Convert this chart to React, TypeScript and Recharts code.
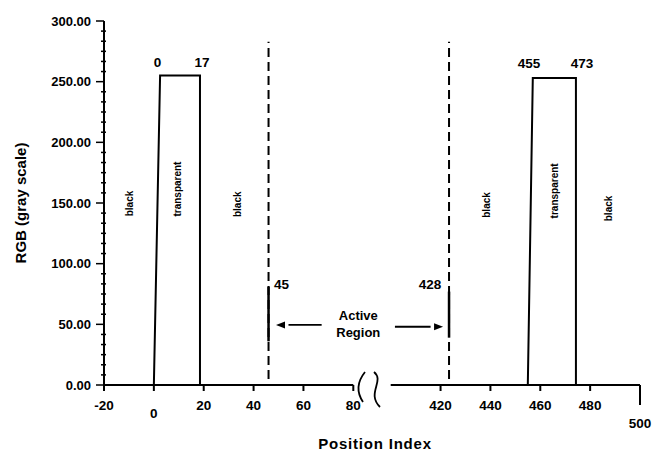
import React from "react";
import {
  ComposedChart,
  Line,
  Scatter,
  XAxis,
  YAxis,
  ReferenceLine,
  Label,
} from "recharts";

// the x axis is cut between 80 and 400, the cut keeps a small gap for the break mark
const GAP_START = 80;
const GAP_END = 400;
const GAP_WIDTH = 15;
const pos = (v: number) => (v <= GAP_START ? v : v - GAP_END + GAP_START + GAP_WIDTH);
const fromPos = (d: number) => (d <= GAP_START ? d : d + GAP_END - GAP_START - GAP_WIDTH);
const BREAK_AT = GAP_START + GAP_WIDTH / 2;

const xTickValues = [-20, 0, 20, 40, 60, 80, 420, 440, 460, 480, 500];
const yMajorTicks = [0, 50, 100, 150, 200, 250, 300];

// the two transparent windows (gray level 0 = black)
const leftPulse = [
  { x: 0, y: 0 },
  { x: 2.5, y: 255 },
  { x: 18.5, y: 255 },
  { x: 18.5, y: 0 },
];
const rightPulse = [
  { x: 455, y: 0 },
  { x: 457, y: 253 },
  { x: 474.3, y: 253 },
  { x: 474.3, y: 0 },
];

const boundaries = [46, 423.4];
const boundaryTop = 283;
const boundaryBottom = 5;
// heavier bits of the dashed lines next to the arrows
const boundaryMarks = [
  { x: 46, from: 36, to: 81 },
  { x: 423.4, from: 39, to: 77 },
];

const edgeLabels = [
  { x: 1.5, y: 266, text: "0" },
  { x: 19.3, y: 266, text: "17" },
  { x: 455.5, y: 265, text: "455" },
  { x: 476.7, y: 265, text: "473" },
];
const boundaryLabels = [
  { x: 51.2, y: 83, text: "45" },
  { x: 415.8, y: 82.5, text: "428" },
];
const zoneLabels = [
  { x: -9.6, y: 149.6, text: "black" },
  { x: 9.5, y: 161.5, text: "transparent" },
  { x: 33.5, y: 149, text: "black" },
  { x: 438.5, y: 148.4, text: "black" },
  { x: 465.8, y: 160, text: "transparent" },
  { x: 487.5, y: 145.5, text: "black" },
];

// arrows pointing at the boundaries
const arrows = [
  { from: 67.3, tip: 49, y: 49.5, dir: -1 },
  { from: 401.7, tip: 421, y: 48, dir: 1 },
];

const yTicks = yMajorTicks
  .slice(0, -1)
  .flatMap((t) => [0, 1, 2, 3, 4, 5].map((k) => t + (k * 50) / 6))
  .concat(300);

const font = "'Liberation Sans', Arial, Helvetica, sans-serif";

const YTick = (props: any) => {
  const { x, y, payload } = props;
  const v = payload.value;
  const major = yMajorTicks.includes(v);
  return (
    <g>
      <line
        x1={major ? x - 8 : x - 3}
        x2={major ? x : x + 2}
        y1={y}
        y2={y}
        stroke="#000"
        strokeWidth={1.5}
      />
      {major && (
        <text
          x={x - 13}
          y={y}
          textAnchor="end"
          dominantBaseline="central"
          fontFamily={font}
          fontWeight="bold"
          fontSize={13}
          fill="#000"
        >
          {v.toFixed(2)}
        </text>
      )}
    </g>
  );
};

const XTick = (props: any) => {
  const { x, y, payload } = props;
  const d = payload.value;
  if (d === BREAK_AT) {
    return (
      <g fill="none" stroke="#000" strokeWidth={1.8}>
        <path d={`M${x - 7},${y - 13} Q${x - 19},${y + 2} ${x - 9},${y + 17}`} />
        <path d={`M${x + 2},${y - 13} C${x + 13},${y - 4} ${x - 6},${y + 8} ${x + 8},${y + 22}`} />
      </g>
    );
  }
  const v = fromPos(d);
  const drop = v === 0 ? 8 : v === 500 ? 18 : 0;
  const len = v === 500 ? 20 : 6;
  return (
    <g>
      <line x1={x} x2={x} y1={y} y2={y + len} stroke="#000" strokeWidth={2} />
      <text
        x={x}
        y={y + 20 + drop}
        textAnchor="middle"
        dominantBaseline="central"
        fontFamily={font}
        fontWeight="bold"
        fontSize={13.5}
        fill="#000"
      >
        {v}
      </text>
    </g>
  );
};

const textShape = (size: number, rotate = false) => (p: any) => {
  const { cx, cy, payload } = p;
  return (
    <text
      x={cx}
      y={cy}
      textAnchor="middle"
      dominantBaseline="central"
      fontFamily={font}
      fontWeight="bold"
      fontSize={size}
      fill="#000"
      transform={rotate ? `rotate(-90, ${cx}, ${cy})` : undefined}
    >
      {payload.text}
    </text>
  );
};

const arrowHead = (p: any) => {
  const { cx, cy, payload } = p;
  const s = -payload.dir;
  return (
    <path
      d={`M${cx},${cy} L${cx + s * 9},${cy - 3.5} L${cx + s * 9},${cy + 3.5} Z`}
      fill="#000"
    />
  );
};

const activeShape = (p: any) => {
  const { cx, cy } = p;
  return (
    <text
      x={cx}
      textAnchor="middle"
      fontFamily={font}
      fontWeight="bold"
      fontSize={13}
      fill="#000"
    >
      <tspan x={cx} y={cy - 6}>Active</tspan>
      <tspan x={cx} y={cy + 11}>Region</tspan>
    </text>
  );
};

const toDisplay = (pts: { x: number; y: number }[]) =>
  pts.map((p) => ({ ...p, x: pos(p.x) }));

const App = () => {
  const activeAt = [
    {
      x: (pos(arrows[0].from) + pos(arrows[1].from)) / 2,
      y: (arrows[0].y + arrows[1].y) / 2,
    },
  ];
  return (
    <div
      style={{
        position: "fixed",
        left: 0,
        top: 0,
        width: 654,
        height: 454,
        background: "#fff",
      }}
    >
      <ComposedChart
        width={654}
        height={454}
        margin={{ top: 21, right: 14, bottom: 9, left: 10 }}
      >
        <XAxis
          type="number"
          dataKey="x"
          domain={[-20, pos(500)]}
          ticks={[...xTickValues.map(pos), BREAK_AT]}
          interval={0}
          tickSize={0}
          tickMargin={0}
          axisLine={false}
          tickLine={false}
          tick={(p: any) => <XTick {...p} />}
          height={60}
        >
          <Label
            content={(p: any) => {
              const vb = p.viewBox;
              return (
                <text
                  x={vb.x + vb.width / 2 + 3}
                  y={vb.y + 58}
                  textAnchor="middle"
                  dominantBaseline="central"
                  fontFamily={font}
                  fontWeight="bold"
                  fontSize={15}
                  letterSpacing={0.8}
                  fill="#000"
                >
                  Position Index
                </text>
              );
            }}
          />
        </XAxis>
        <YAxis
          type="number"
          domain={[0, 300]}
          ticks={yTicks}
          interval={0}
          tickSize={0}
          tickMargin={0}
          width={94}
          axisLine={{ stroke: "#000", strokeWidth: 2 }}
          tickLine={false}
          tick={(p: any) => <YTick {...p} />}
        >
          <Label
            content={(p: any) => {
              const vb = p.viewBox;
              const cx = vb.x + 10;
              const cy = vb.y + vb.height / 2;
              return (
                <text
                  x={cx}
                  y={cy}
                  textAnchor="middle"
                  dominantBaseline="central"
                  fontFamily={font}
                  fontWeight="bold"
                  fontSize={15}
                  fill="#000"
                  transform={`rotate(-90, ${cx}, ${cy})`}
                >
                  RGB (gray scale)
                </text>
              );
            }}
          />
        </YAxis>

        {/* broken x axis line */}
        <ReferenceLine
          segment={[{ x: -20, y: 0 }, { x: GAP_START, y: 0 }]}
          stroke="#000"
          strokeWidth={2}
          ifOverflow="visible"
        />
        <ReferenceLine
          segment={[{ x: pos(GAP_END), y: 0 }, { x: pos(500), y: 0 }]}
          stroke="#000"
          strokeWidth={2}
          ifOverflow="visible"
        />

        {boundaries.map((b) => (
          <ReferenceLine
            key={b}
            segment={[{ x: pos(b), y: boundaryBottom }, { x: pos(b), y: boundaryTop }]}
            stroke="#000"
            strokeWidth={2}
            strokeDasharray="9 5"
            ifOverflow="visible"
          />
        ))}
        {boundaryMarks.map((m) => (
          <ReferenceLine
            key={m.x}
            segment={[{ x: pos(m.x), y: m.from }, { x: pos(m.x), y: m.to }]}
            stroke="#000"
            strokeWidth={2.5}
            ifOverflow="visible"
          />
        ))}
        {arrows.map((a) => (
          <ReferenceLine
            key={a.tip}
            segment={[{ x: pos(a.from), y: a.y }, { x: pos(a.tip) - a.dir * 5, y: a.y }]}
            stroke="#000"
            strokeWidth={1.8}
            ifOverflow="visible"
          />
        ))}

        <Line
          data={toDisplay(leftPulse)}
          dataKey="y"
          type="linear"
          stroke="#000"
          strokeWidth={2}
          dot={false}
          activeDot={false}
          isAnimationActive={false}
        />
        <Line
          data={toDisplay(rightPulse)}
          dataKey="y"
          type="linear"
          stroke="#000"
          strokeWidth={2}
          dot={false}
          activeDot={false}
          isAnimationActive={false}
        />

        <Scatter
          data={arrows.map((a) => ({ x: pos(a.tip), y: a.y, dir: a.dir }))}
          dataKey="y"
          shape={arrowHead}
          isAnimationActive={false}
        />
        <Scatter
          data={toDisplay(edgeLabels)}
          dataKey="y"
          shape={textShape(13.5)}
          isAnimationActive={false}
        />
        <Scatter
          data={toDisplay(boundaryLabels)}
          dataKey="y"
          shape={textShape(13.5)}
          isAnimationActive={false}
        />
        <Scatter
          data={toDisplay(zoneLabels)}
          dataKey="y"
          shape={textShape(10, true)}
          isAnimationActive={false}
        />
        <Scatter data={activeAt} dataKey="y" shape={activeShape} isAnimationActive={false} />
      </ComposedChart>
    </div>
  );
};

export default App;
